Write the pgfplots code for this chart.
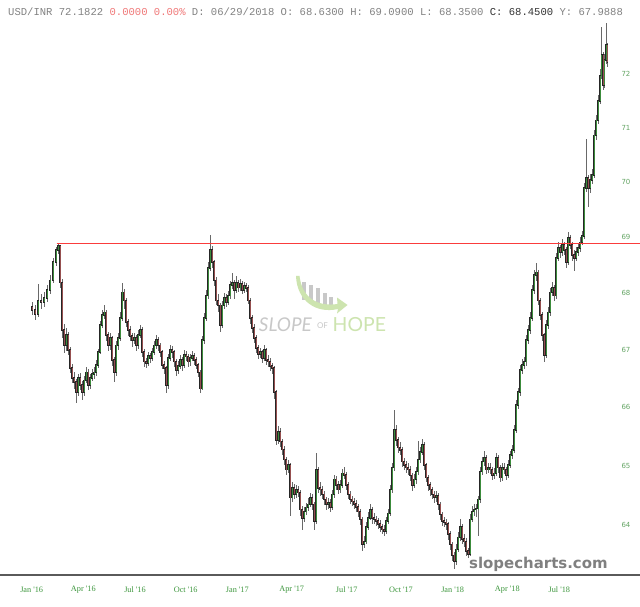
\documentclass[border=0pt]{standalone}
\usepackage{fontspec}
\usepackage{pgfplots}
\usepackage{pgfplotstable}
\pgfplotsset{compat=1.18}
\pgfdeclarelayer{background}
\pgfsetlayers{background,main}
\newfontfamily\monof{Liberation Mono}
\newfontfamily\dejavu{DejaVu Sans}
\newfontfamily\serifx{Liberation Serif}
\newfontfamily\latof{Lato}
\definecolor{upc}{RGB}{60,140,60}
\definecolor{dnc}{RGB}{150,80,80}
\definecolor{wickc}{RGB}{105,105,105}
\definecolor{ylab}{RGB}{100,165,100}
\definecolor{xlab}{RGB}{60,150,60}
\definecolor{resline}{RGB}{250,60,60}
\definecolor{axc}{RGB}{90,90,90}
\definecolor{wmgray}{RGB}{200,200,200}
\definecolor{wmgreen}{RGB}{205,228,175}
\definecolor{hdr}{RGB}{130,130,130}
\definecolor{hdrred}{RGB}{240,120,120}

\pgfplotstableread{
x o h l c
32 67.76 67.84 67.62 67.70
35 67.70 67.78 67.52 67.63
38 67.63 68.17 67.58 67.87
41 67.87 67.98 67.72 67.84
44 67.84 68.02 67.76 67.91
47 67.91 68.14 67.84 68.05
50 68.05 68.32 67.98 68.23
53 68.23 68.62 68.18 68.55
56 68.55 68.82 68.48 68.77
58 68.77 68.88 68.70 68.84
60 68.84 68.86 68.10 68.19
62 68.19 68.25 67.20 67.35
64 67.35 67.45 66.95 67.08
66 67.08 67.38 66.98 67.26
68 67.26 67.32 66.90 66.99
70 66.99 67.05 66.60 66.68
72 66.68 66.75 66.42 66.51
74 66.51 66.62 66.32 66.44
76 66.44 66.50 66.07 66.26
78 66.26 66.58 66.20 66.51
80 66.51 66.60 66.30 66.39
82 66.39 66.45 66.12 66.26
84 66.26 66.55 66.20 66.47
86 66.47 66.70 66.42 66.61
88 66.61 66.66 66.30 66.39
90 66.39 66.58 66.32 66.51
92 66.51 66.66 66.45 66.58
94 66.58 66.70 66.50 66.61
96 66.61 66.82 66.55 66.74
98 66.74 67.02 66.68 66.96
100 66.96 67.50 66.92 67.43
102 67.43 67.70 67.38 67.61
104 67.61 67.78 67.55 67.66
106 67.66 67.70 67.15 67.26
108 67.26 67.32 66.98 67.08
110 67.08 67.30 67.00 67.21
112 67.21 67.25 66.72 66.82
114 66.82 66.88 66.44 66.61
116 66.61 67.15 66.55 67.08
118 67.08 67.30 67.00 67.21
120 67.21 67.66 67.15 67.56
122 67.56 68.19 67.50 68.01
124 68.01 68.08 67.72 67.87
126 67.87 67.92 67.40 67.49
128 67.49 67.55 67.25 67.35
130 67.35 67.42 67.15 67.24
132 67.24 67.30 67.05 67.17
134 67.17 67.30 67.10 67.21
136 67.21 67.26 66.98 67.08
138 67.08 67.34 67.02 67.26
140 67.26 67.44 67.20 67.35
142 67.35 67.40 66.88 66.96
144 66.96 67.02 66.70 66.79
146 66.79 66.86 66.68 66.77
148 66.77 66.96 66.72 66.89
150 66.89 66.95 66.78 66.86
152 66.86 67.04 66.80 66.96
154 66.96 67.15 66.90 67.08
156 67.08 67.26 67.02 67.17
158 67.17 67.22 66.98 67.08
160 67.08 67.12 66.88 66.96
162 66.96 67.00 66.66 66.74
164 66.74 66.80 66.58 66.68
166 66.68 66.72 66.25 66.39
168 66.39 66.92 66.33 66.86
170 66.86 67.08 66.80 66.99
172 66.99 67.06 66.86 66.96
174 66.96 67.00 66.70 66.79
176 66.79 66.84 66.55 66.65
178 66.65 66.80 66.58 66.72
180 66.72 66.90 66.66 66.82
182 66.82 66.88 66.64 66.74
184 66.74 67.00 66.68 66.91
186 66.91 66.98 66.80 66.88
188 66.88 66.94 66.70 66.79
190 66.79 66.93 66.72 66.86
192 66.86 66.98 66.80 66.89
194 66.89 66.95 66.74 66.82
196 66.82 66.87 66.66 66.74
198 66.74 66.78 66.52 66.61
200 66.61 66.65 66.25 66.33
202 66.33 67.25 66.30 67.17
204 67.17 67.64 67.10 67.56
206 67.56 68.05 67.50 67.96
208 67.96 68.55 67.90 68.45
210 68.45 69.04 68.40 68.77
212 68.77 68.85 68.45 68.55
214 68.55 68.60 68.12 68.23
216 68.23 68.28 67.78 67.87
218 67.87 67.98 67.66 67.78
220 67.78 67.82 67.31 67.43
222 67.43 67.86 67.38 67.78
224 67.78 68.00 67.72 67.91
226 67.91 67.98 67.76 67.84
228 67.84 68.04 67.78 67.96
230 67.96 68.22 67.90 68.14
232 68.14 68.36 68.08 68.19
234 68.19 68.24 67.90 68.05
236 68.05 68.30 68.00 68.18
238 68.18 68.24 68.02 68.10
240 68.10 68.25 68.04 68.16
242 68.16 68.22 67.98 68.05
244 68.05 68.20 68.00 68.12
246 68.12 68.18 68.01 68.09
248 68.09 68.14 67.80 67.87
250 67.87 67.92 67.46 67.56
252 67.56 67.62 67.30 67.38
254 67.38 67.45 67.12 67.21
256 67.21 67.26 66.95 67.03
258 67.03 67.08 66.84 66.93
260 66.93 67.04 66.86 66.96
262 66.96 67.01 66.78 66.86
264 66.86 67.08 66.80 66.99
266 66.99 67.03 66.74 66.82
268 66.82 66.90 66.70 66.79
270 66.79 66.85 66.64 66.72
272 66.72 66.78 66.58 66.68
274 66.68 66.72 66.15 66.26
276 66.26 66.30 65.36 65.44
278 65.44 65.68 65.38 65.58
280 65.58 65.64 65.32 65.41
282 65.41 65.46 65.18 65.28
284 65.28 65.34 65.02 65.11
286 65.11 65.16 64.85 64.94
288 64.94 65.10 64.88 65.02
290 65.02 65.06 64.15 64.46
292 64.46 64.72 64.40 64.63
294 64.63 64.70 64.44 64.52
296 64.52 64.68 64.46 64.60
298 64.60 64.66 64.47 64.55
300 64.55 64.60 64.16 64.26
302 64.26 64.32 63.93 64.13
304 64.13 64.30 64.06 64.23
306 64.23 64.38 64.17 64.30
308 64.30 64.45 64.24 64.35
310 64.35 64.55 64.30 64.46
312 64.46 64.52 64.26 64.35
314 64.35 64.40 63.93 64.07
316 64.07 65.22 64.02 64.94
318 64.94 64.98 64.55 64.63
320 64.63 64.72 64.50 64.60
322 64.60 64.66 64.44 64.52
324 64.52 64.58 64.34 64.43
326 64.43 64.48 64.26 64.35
328 64.35 64.46 64.28 64.38
330 64.38 64.44 64.22 64.30
332 64.30 64.60 64.25 64.52
334 64.52 64.85 64.46 64.77
336 64.77 64.82 64.60 64.68
338 64.68 64.74 64.52 64.60
340 64.60 64.76 64.54 64.68
342 64.68 64.95 64.62 64.87
344 64.87 64.98 64.78 64.85
346 64.85 64.90 64.60 64.68
348 64.68 64.72 64.44 64.52
350 64.52 64.58 64.35 64.43
352 64.43 64.50 64.32 64.40
354 64.40 64.46 64.28 64.36
356 64.36 64.42 64.22 64.31
358 64.31 64.36 64.14 64.23
360 64.23 64.28 64.00 64.10
362 64.10 64.14 63.57 63.68
364 63.68 63.82 63.62 63.73
366 63.73 64.05 63.68 63.97
368 63.97 64.22 63.92 64.13
370 64.13 64.36 64.08 64.26
372 64.26 64.30 64.02 64.13
374 64.13 64.20 64.02 64.10
376 64.10 64.16 63.98 64.07
378 64.07 64.12 63.94 64.02
380 64.02 64.08 63.88 63.97
382 63.97 64.03 63.85 63.93
384 63.93 64.00 63.82 63.90
386 63.90 64.14 63.85 64.07
388 64.07 64.28 64.02 64.20
390 64.20 64.68 64.15 64.60
392 64.60 65.05 64.55 64.97
394 64.97 65.95 64.92 65.61
396 65.61 65.70 65.35 65.44
398 65.44 65.50 65.22 65.31
400 65.31 65.40 65.18 65.27
402 65.27 65.32 64.98 65.07
404 65.07 65.14 64.93 65.02
406 65.02 65.08 64.88 64.97
408 64.97 65.04 64.85 64.94
410 64.94 64.99 64.74 64.84
412 64.84 64.88 64.58 64.68
414 64.68 64.86 64.62 64.77
416 64.77 64.98 64.70 64.90
418 64.90 65.42 64.84 65.11
420 65.11 65.32 65.05 65.24
422 65.24 65.46 65.18 65.36
424 65.36 65.40 64.94 65.02
426 65.02 65.06 64.72 64.80
428 64.80 64.85 64.58 64.68
430 64.68 64.72 64.50 64.60
432 64.60 64.65 64.44 64.52
434 64.52 64.58 64.38 64.47
436 64.47 64.58 64.40 64.50
438 64.50 64.55 64.26 64.35
440 64.35 64.40 64.08 64.18
442 64.18 64.22 63.98 64.07
444 64.07 64.14 63.97 64.05
446 64.05 64.10 63.93 64.02
448 64.02 64.06 63.76 63.85
450 63.85 63.90 63.58 63.68
452 63.68 63.72 63.40 63.50
454 63.50 63.55 63.27 63.40
456 63.40 63.68 63.34 63.60
458 63.60 63.88 63.55 63.80
460 63.80 64.10 63.74 63.97
462 63.97 64.02 63.68 63.77
464 63.77 63.86 63.64 63.73
466 63.73 63.78 63.48 63.57
468 63.57 63.62 63.45 63.52
470 63.52 64.18 63.48 64.10
472 64.10 64.32 64.05 64.23
474 64.23 64.35 64.16 64.26
476 64.26 64.36 64.14 64.28
478 64.28 64.50 63.82 64.43
480 64.43 64.98 64.38 64.90
482 64.90 65.16 64.84 65.07
484 65.07 65.26 65.00 65.14
486 65.14 65.18 64.86 64.94
488 64.94 65.06 64.88 64.97
490 64.97 65.04 64.86 64.94
492 64.94 64.98 64.76 64.84
494 64.84 64.96 64.78 64.87
496 64.87 65.22 64.82 65.14
498 65.14 65.18 64.88 64.97
500 64.97 65.02 64.72 64.80
502 64.80 65.06 64.74 64.97
504 64.97 65.04 64.86 64.94
506 64.94 64.98 64.76 64.85
508 64.85 65.10 64.80 65.02
510 65.02 65.26 64.96 65.19
512 65.19 65.36 65.12 65.27
514 65.27 65.70 65.22 65.61
516 65.61 66.12 65.56 66.04
518 66.04 66.34 65.98 66.26
520 66.26 66.74 66.20 66.65
522 66.65 66.84 66.58 66.74
524 66.74 66.88 66.66 66.79
526 66.79 67.26 66.72 67.17
528 67.17 67.44 67.10 67.35
530 67.35 67.66 67.28 67.56
532 67.56 68.14 67.50 68.05
534 68.05 68.42 67.98 68.32
536 68.32 68.54 68.22 68.37
538 68.37 68.42 67.78 67.87
540 67.87 67.92 67.52 67.61
542 67.61 67.66 67.16 67.26
544 67.26 67.30 66.79 66.91
546 66.91 67.52 66.86 67.43
548 67.43 67.75 67.36 67.66
550 67.66 68.10 67.60 68.01
552 68.01 68.20 67.94 68.09
554 68.09 68.14 67.86 67.96
556 67.96 68.72 67.90 68.63
558 68.63 68.92 68.56 68.81
560 68.81 68.86 68.62 68.73
562 68.73 68.96 68.66 68.86
564 68.86 68.92 68.68 68.77
566 68.77 68.82 68.45 68.55
568 68.55 69.10 68.50 68.99
570 68.99 69.04 68.78 68.86
572 68.86 68.92 68.58 68.68
574 68.68 68.76 68.40 68.63
576 68.63 68.82 68.56 68.73
578 68.73 68.90 68.66 68.81
580 68.81 69.00 68.74 68.91
582 68.91 69.12 68.86 69.02
584 69.02 69.98 68.96 69.89
586 69.89 70.80 69.82 70.08
588 70.08 70.14 69.54 69.89
590 69.89 70.16 69.80 70.04
592 70.04 70.24 69.96 70.13
594 70.13 70.96 70.08 70.86
596 70.86 71.24 70.78 71.14
598 71.14 71.62 71.06 71.51
600 71.51 72.10 71.44 71.98
601.5 71.98 72.89 71.92 72.36
603 72.36 72.42 71.70 71.80
604.5 71.80 72.38 71.74 72.27
606 72.27 72.98 72.20 72.55
607.5 72.55 72.60 72.14 72.23
}\candles

\pgfplotstableread{
x y
56.7 4.232366
640 4.232366
}\resistance

\begin{document}
\begin{tikzpicture}
\begin{axis}[
  scale only axis, width=640bp, height=557bp,
  xmin=0, xmax=640,
  ymin=4.145830, ymax=4.291281,
  enlargelimits=false,
  axis x line*=bottom, axis y line*=right,
  x axis line style={draw=axc, line width=1.3bp, -},
  y axis line style={draw=none},
  major tick length=0pt, tick style={draw=none},
  xtick={31.7,83.3,135,185.7,237.3,291.7,346.7,401,452.7,507.3,559.3},
  xticklabels={Jan '16,Apr '16,Jul '16,Oct '16,Jan '17,Apr '17,Jul '17,Oct '17,Jan '18,Apr '18,Jul '18},
  xticklabel style={anchor=center, yshift=-15bp, text=xlab, font=\serifx\fontsize{8.3}{9}\selectfont},
  ytick={4.158883,4.174387,4.189655,4.204693,4.219508,4.234107,4.248495,4.262680,4.276666},
  yticklabels={64,65,66,67,68,69,70,71,72},
  yticklabel style={anchor=center, xshift=-14bp, text=ylab, font=\dejavu\fontsize{7}{8}\selectfont},
]
% wicks
\addplot[draw=none, mark=none, forget plot,
  error bars/.cd, y dir=both, y explicit, error mark=none,
  error bar style={draw=wickc, line width=0.55bp}]
  table[x=x, y expr=ln(\thisrow{c}), y error plus expr=ln(\thisrow{h})-ln(\thisrow{c}), y error minus expr=ln(\thisrow{c})-ln(\thisrow{l})] {\candles};
% body outlines
\addplot[draw=none, mark=none, forget plot,
  error bars/.cd, y dir=both, y explicit, error mark=none,
  error bar style={draw=black!85, line width=1.6bp, line cap=rect}]
  table[x=x, y expr=ln(\thisrow{o}), y error plus expr={max(ln(\thisrow{c})-ln(\thisrow{o}),0)}, y error minus expr={max(ln(\thisrow{o})-ln(\thisrow{c}),0)}] {\candles};
% up bodies
\addplot[draw=none, mark=none, forget plot,
  restrict expr to domain={\thisrow{c}-\thisrow{o}}{0:100},
  error bars/.cd, y dir=both, y explicit, error mark=none,
  error bar style={draw=upc, line width=0.9bp}]
  table[x=x, y expr=ln(\thisrow{o}), y error plus expr=ln(\thisrow{c})-ln(\thisrow{o}), y error minus expr=0] {\candles};
% down bodies
\addplot[draw=none, mark=none, forget plot,
  restrict expr to domain={\thisrow{o}-\thisrow{c}}{0.00001:100},
  error bars/.cd, y dir=both, y explicit, error mark=none,
  error bar style={draw=dnc, line width=0.9bp}]
  table[x=x, y expr=ln(\thisrow{o}), y error plus expr=0, y error minus expr=ln(\thisrow{o})-ln(\thisrow{c})] {\candles};
% horizontal resistance line at 68.88 (ln = 4.232366), drawn over the candles
\addplot[no markers, draw=resline, line width=1bp, solid, forget plot] table[x=x, y=y] {\resistance};
\draw[draw=resline, line width=1bp] (axis cs:56.7,4.232366) -- (axis cs:640,4.232366);
\coordinate (BL) at (rel axis cs:0,0);
\end{axis}
\begin{pgfonlayer}{background}
\begin{scope}[shift={(BL)}, yshift=-32bp, x=1bp, y=1bp]
\fill[white] (0,0) rectangle (640,607);
\fill[wmgray] (301.7,307) rectangle (306,325.3);
\fill[wmgray] (309,304.5) rectangle (313.3,322);
\fill[wmgray] (316,303) rectangle (320,318.7);
\fill[wmgray] (323.3,302.5) rectangle (327.3,313.7);
\fill[wmgray] (329,302.5) rectangle (333,310);
\fill[wmgreen] (296,331) .. controls (297,306) and (316,293) .. (338,298)
  -- (337,293.5) -- (347.5,302) -- (337,309.5) -- (337.5,303)
  .. controls (318,300) and (302,309) .. (299.5,331) -- cycle;
\node[anchor=base east, inner sep=0pt, text=wmgray, font=\latof\itshape\fontsize{19}{20}\selectfont] at (312,275.5) {SLOPE};
\node[anchor=base, inner sep=0pt, text=wmgray, font=\latof\fontsize{8}{9}\selectfont] at (322.5,279) {OF};
\node[anchor=base west, inner sep=0pt, text=wmgreen, font=\latof\fontsize{19.5}{20}\selectfont] at (332.5,275.5) {HOPE};
\end{scope}
\end{pgfonlayer}
\begin{scope}[shift={(BL)}, yshift=-32bp, x=1bp, y=1bp]
\node[anchor=west, inner sep=0pt, font=\monof\fontsize{10.6}{12}\selectfont] at (8,595)
  {\textcolor{hdr}{USD/INR 72.1822} \textcolor{hdrred}{0.0000 0.00\%} \textcolor{hdr}{D: 06/29/2018 O: 68.6300 H: 69.0900 L: 68.3500} \textcolor{black!80}{C: 68.4500} \textcolor{hdr}{Y: 67.9888}};
\node[anchor=base west, inner sep=0pt, text=black!50, font=\dejavu\bfseries\fontsize{15}{16}\selectfont] at (469,39) {slopecharts.com};
\end{scope}
\pgfresetboundingbox
\path[use as bounding box] (BL) ++(0bp,-32bp) rectangle ++(640bp,607bp);
\end{tikzpicture}
\end{document}
